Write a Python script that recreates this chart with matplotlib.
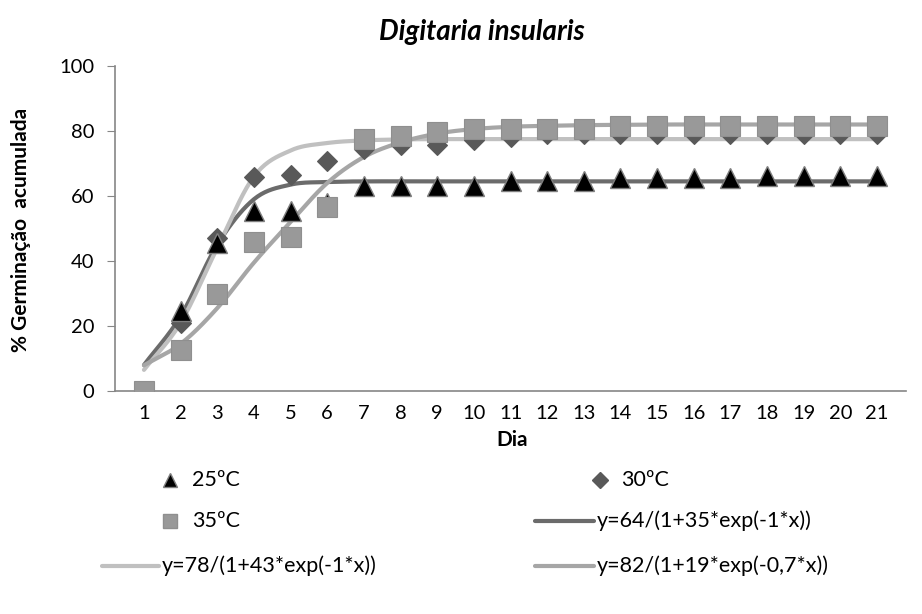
import numpy as np
import matplotlib
matplotlib.use("Agg")
import matplotlib.pyplot as plt
from matplotlib.lines import Line2D

plt.rcParams["font.family"] = ["Lato", "DejaVu Sans"]

# ==========================================
# Data
# ==========================================
dias = list(range(1, 22))

t25 = [0, 24.5, 45.5, 55.5, 55.5, 58, 63, 63, 63, 63, 64.6, 64.6, 64.6,
       65.4, 65.4, 65.4, 65.4, 66.2, 66.2, 66.2, 66.2]
t30 = [0, 20.8, 47, 65.7, 66.5, 70.9, 74.5, 75.7, 75.7, 77.2, 78.2, 79, 79,
       79, 79, 79, 79, 79, 79, 79, 79]
t35 = [0, 12.6, 30, 45.7, 47.5, 56.7, 77.4, 78.4, 79.8, 80.7, 80.7, 80.7,
       80.7, 81.5, 81.5, 81.5, 81.5, 81.5, 81.5, 81.5, 81.5]

# fitted curves as drawn in the chart (value at each day)
fit64 = [8, 23, 45, 59, 63.5, 64.3, 64.5, 64.5, 64.5, 64.5, 64.5, 64.5,
         64.5, 64.5, 64.5, 64.5, 64.5, 64.5, 64.5, 64.5, 64.5]
fit78 = [6.5, 21, 44, 66, 74, 76.3, 77.1, 77.4, 77.5, 77.5, 77.5, 77.5,
         77.5, 77.5, 77.5, 77.5, 77.5, 77.5, 77.5, 77.5, 77.5]
fit82 = [7.9, 14.5, 25.5, 39.5, 52, 64, 72, 76.5, 79.2, 80.6, 81.3, 81.6,
         81.8, 81.9, 82, 82, 82, 82, 82, 82, 82]

labels_fit = ["y=64/(1+35*exp(-1*x))", "y=78/(1+43*exp(-1*x))",
              "y=82/(1+19*exp(-0,7*x))"]


def smooth(x, y, n=20):
    # Catmull-Rom style smoothing, like Excel's "smoothed line"
    x = np.asarray(x, float)
    y = np.asarray(y, float)
    px = np.concatenate([[2 * x[0] - x[1]], x, [2 * x[-1] - x[-2]]])
    py = np.concatenate([[2 * y[0] - y[1]], y, [2 * y[-1] - y[-2]]])
    xs, ys = [], []
    t = np.linspace(0, 1, n, endpoint=False)
    for i in range(1, len(px) - 2):
        for arr, out in ((px, xs), (py, ys)):
            p0, p1, p2, p3 = arr[i - 1], arr[i], arr[i + 1], arr[i + 2]
            out.extend(0.5 * (2 * p1 + (-p0 + p2) * t
                              + (2 * p0 - 5 * p1 + 4 * p2 - p3) * t ** 2
                              + (-p0 + 3 * p1 - 3 * p2 + p3) * t ** 3))
    xs.append(x[-1])
    ys.append(y[-1])
    return np.array(xs), np.array(ys)


c64, c78, c82 = "#6b6b6b", "#c0c0c0", "#a6a6a6"
axis_col = "#868686"
tick_fs = 14.5
leg_fs = 15.5

fig = plt.figure(figsize=(9.22, 6.14), dpi=100)
ax = fig.add_axes([115 / 922, 1 - 391 / 614, (906 - 115) / 922, (391 - 66) / 614])

for vals, col in ((fit64, c64), (fit78, c78), (fit82, c82)):
    sx, sy = smooth(dias, vals)
    ax.plot(sx, sy, color=col, lw=3.0, solid_capstyle="round", zorder=2)

ax.plot(dias, t30, ls="none", marker="D", ms=10.5, mfc="#595959", mec="#595959",
        mew=0.8, zorder=4)
ax.plot(dias, t25, ls="none", marker="^", ms=14, mfc="black", mec="#7f7f7f",
        mew=1.0, zorder=5)
# squares drawn on top of the others, as in the reference
ax.plot(dias, t35, ls="none", marker="s", ms=14, mfc="#999999", mec="#8f8f8f",
        mew=0.8, zorder=6)

ax.set_xlim(0.21, 21.79)
ax.set_ylim(0, 100)
ax.set_xticks(dias)
ax.set_yticks(range(0, 101, 20))
ax.tick_params(axis="x", length=0, pad=10, labelsize=tick_fs)
ax.tick_params(axis="y", length=6, color=axis_col, pad=9, labelsize=tick_fs)
for s in ["top", "right"]:
    ax.spines[s].set_visible(False)
for s in ["left", "bottom"]:
    ax.spines[s].set_color(axis_col)
    ax.spines[s].set_linewidth(1.2)

fig.text(482 / 922, 1 - 32 / 614, "Digitaria insularis", ha="center",
         va="center", fontsize=20, fontweight="bold", style="italic")
fig.text(21 / 922, 1 - 230 / 614, "% Germinação  acumulada", rotation=90,
         ha="center", va="center", fontsize=15, fontweight="bold")
fig.text(512 / 922, 1 - 440 / 614, "Dia", ha="center", va="center",
         fontsize=15, fontweight="bold")

# ==========================================
# Legend (two columns, below the chart)
# ==========================================


def fx(px):
    return px / 922


def fy(py):
    return 1 - py / 614


def leg_marker(x, y, marker, ms, fc, ec):
    fig.add_artist(Line2D([fx(x)], [fy(y)], ls="none", marker=marker, ms=ms,
                          mfc=fc, mec=ec, transform=fig.transFigure))


def leg_line(x0, x1, y, col):
    fig.add_artist(Line2D([fx(x0), fx(x1)], [fy(y), fy(y)], color=col, lw=3.0,
                          solid_capstyle="round", transform=fig.transFigure))


leg_marker(170, 480, "^", 10, "black", "#7f7f7f")
fig.text(fx(192), fy(480), "25ºC", va="center", fontsize=leg_fs)
leg_marker(600, 480, "D", 8, "#595959", "#595959")
fig.text(fx(621), fy(480), "30ºC", va="center", fontsize=leg_fs)

leg_marker(170, 521, "s", 10, "#999999", "#8f8f8f")
fig.text(fx(192), fy(521), "35ºC", va="center", fontsize=leg_fs)
leg_line(535, 594, 521, c64)
fig.text(fx(597), fy(521), labels_fit[0], va="center", fontsize=leg_fs)

leg_line(102, 159, 566, c78)
fig.text(fx(162), fy(566), labels_fit[1], va="center", fontsize=leg_fs)
leg_line(535, 594, 566, c82)
fig.text(fx(597), fy(566), labels_fit[2], va="center", fontsize=leg_fs)

fig.savefig("out.png", dpi=100)
